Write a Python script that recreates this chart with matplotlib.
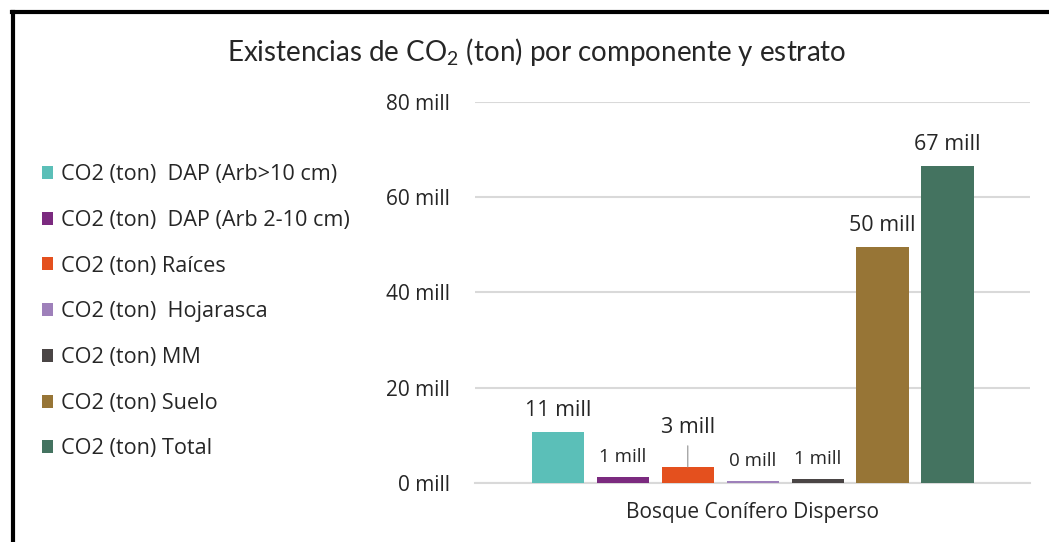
import matplotlib.pyplot as plt
from matplotlib.lines import Line2D

plt.rcParams['font.family'] = ['Open Sans', 'DejaVu Sans']
plt.rcParams['mathtext.fontset'] = 'custom'
plt.rcParams['mathtext.rm'] = 'Lato'

# data (millions of tons CO2)
components = ['CO2 (ton)  DAP (Arb>10 cm)', 'CO2 (ton)  DAP (Arb 2-10 cm)',
              'CO2 (ton) Raíces', 'CO2 (ton)  Hojarasca', 'CO2 (ton) MM',
              'CO2 (ton) Suelo', 'CO2 (ton) Total']
values = [10.7, 1.3, 3.4, 0.4, 0.9, 49.5, 66.6]
labels = ['11 mill', '1 mill', '3 mill', '0 mill', '1 mill', '50 mill', '67 mill']
colors = ['#5BBFB8', '#7B2A7F', '#E4501E', '#9E80BA', '#4A4545', '#977536', '#447360']
category = 'Bosque Conífero Disperso'
yticks = [0, 20, 40, 60, 80]

fig = plt.figure(figsize=(10.49, 5.42), dpi=100)
ax = fig.add_axes([0.453, 0.109, 0.529, 0.703])

spacing = 0.117
width = 0.094
label_sizes = [15.5, 13.5, 15.5, 13.5, 13.5, 15.5, 15.5]
for i, (v, c, lab) in enumerate(zip(values, colors, labels)):
    x = (i - 3) * spacing
    ax.bar(x, v, width, color=c, label=components[i], zorder=3)
    if lab == '3 mill':
        ax.annotate(lab, xy=(x, v), xytext=(0, 21), textcoords='offset points',
                    ha='center', va='bottom', fontsize=label_sizes[i], color='#262626',
                    arrowprops=dict(arrowstyle='-', color='#A6A6A6', lw=1,
                                    shrinkA=4, shrinkB=0))
    else:
        ax.annotate(lab, xy=(x, v), xytext=(0, 8), textcoords='offset points',
                    ha='center', va='bottom', fontsize=label_sizes[i], color='#262626')

ax.set_xlim(-0.5, 0.5)
ax.set_ylim(0, 80)
ax.set_yticks(yticks)
ax.set_yticklabels([f'{t} mill' for t in yticks], fontsize=15, color='#262626')
ax.set_xticks([0])
ax.set_xticklabels([category], fontsize=15, color='#262626')
ax.tick_params(length=0, pad=18, axis='y')
ax.tick_params(length=0, pad=14, axis='x')
ax.grid(axis='y', color='#D9D9D9', lw=1.5, zorder=0)
for s in ['top', 'right', 'left']:
    ax.spines[s].set_visible(False)
ax.spines['bottom'].set_color('#D9D9D9')
ax.spines['bottom'].set_linewidth(1.5)

handles, names = ax.get_legend_handles_labels()
fig.legend(handles, names, loc='upper left', bbox_to_anchor=(0.021, 0.733),
           frameon=False, fontsize=15.6, handlelength=0.55, handleheight=0.55,
           handletextpad=0.35, labelspacing=1.14, labelcolor='#262626')

fig.text(0.512, 0.904, r'Existencias de CO$_\mathregular{2}$ (ton) por componente y estrato',
         ha='center', va='center', fontsize=20, family='Lato', color='#262626')

# outer frame
fig.add_artist(Line2D([0.0125, 0.0125], [0.0, 0.978], color='black', lw=3,
                      transform=fig.transFigure))
fig.add_artist(Line2D([0.0115, 1.0], [0.977, 0.977], color='black', lw=3,
                      transform=fig.transFigure))

fig.savefig('out.png', dpi=100)
